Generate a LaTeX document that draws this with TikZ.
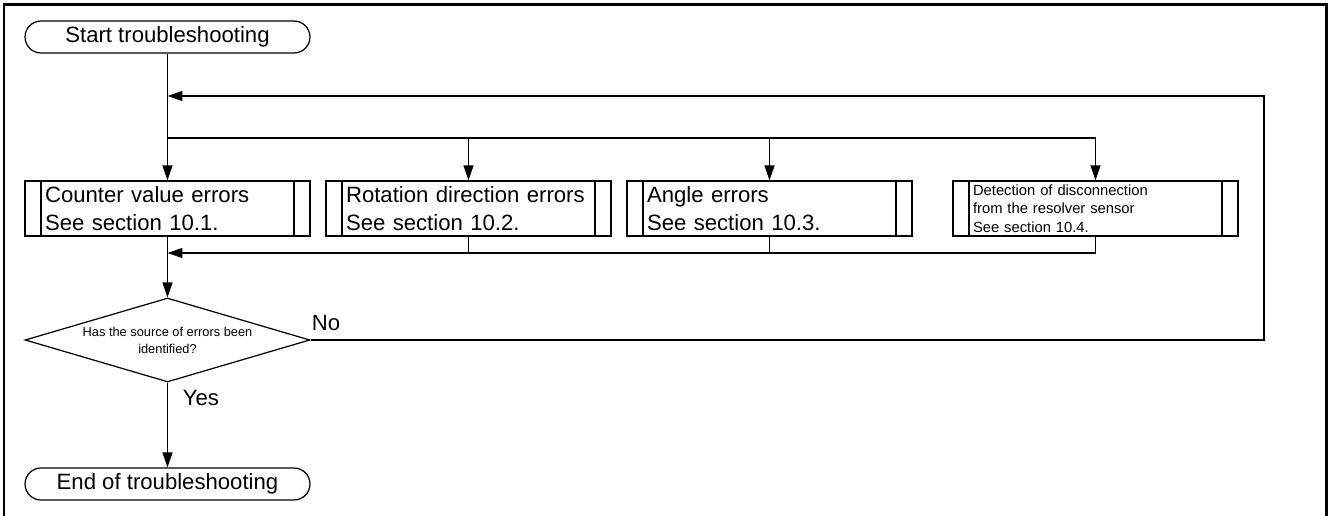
\documentclass[tikz,border=0pt]{standalone}
\usepackage{fontspec}
\setmainfont{Liberation Sans}
\usepackage{tikz}
\usetikzlibrary{shapes.geometric,positioning,arrows.meta}

\begin{document}
\begin{tikzpicture}[
    x=0.02cm, y=-0.02cm,
    term/.style={draw, line width=0.7pt, rounded corners=0.32cm, minimum width=5.7cm, minimum height=0.64cm, inner sep=0pt, font=\fontsize{12.6}{15}\selectfont},
    proc/.style={draw, line width=0.7pt, minimum width=5.7cm, minimum height=1.1cm, text width=4.9cm, inner xsep=0.4cm, inner ysep=0pt, align=left, font=\fontsize{12.6}{15.9}\selectfont,
        path picture={
            \draw[line width=0.7pt] ([xshift=0.32cm]path picture bounding box.north west) -- ([xshift=0.32cm]path picture bounding box.south west);
            \draw[line width=0.7pt] ([xshift=-0.32cm]path picture bounding box.north east) -- ([xshift=-0.32cm]path picture bounding box.south east);
        }},
    decide/.style={draw, diamond, line width=0.7pt, aspect=3.39, minimum width=5.7cm, minimum height=1.68cm, inner sep=0pt, align=center, font=\fontsize{7.3}{9.6}\selectfont},
    lbl/.style={font=\fontsize{12.6}{15}\selectfont, inner sep=0pt},
    arr/.style={-{Triangle[length=0.3cm, width=0.2cm]}, line width=0.7pt},
    line/.style={line width=0.7pt}
]
    \useasboundingbox (0,0) rectangle (1328,516);
    % outer frame, open at the bottom
    \draw[line width=1.7pt] (4,516) -- (4,5) -- (1326,5) -- (1326,516);

    % terminators
    \node[term] (start) at (167.5,37) {Start troubleshooting};
    \node[term] (stop) at (167.5,484) {End of troubleshooting};

    % the four checks
    \node[proc] (cnt) at (167.5,208.5) {Counter value errors\\See section 10.1.};
    \node[proc] (rot) at (468.5,208.5) {Rotation direction errors\\See section 10.2.};
    \node[proc] (ang) at (769.5,208.5) {Angle errors\\See section 10.3.};
    \node[proc, font=\fontsize{8.4}{10.5}\selectfont] (dis) at (1095.5,208.5) {Detection of disconnection\\from the resolver sensor\\See section 10.4.};

    % decision
    \node[decide] (found) at (167.5,340) {Has the source of errors been\\identified?};

    % junction points
    \coordinate (back) at (167.5,96);
    \coordinate (loop) at (1264,96);
    \coordinate (fork) at (167.5,138);
    \coordinate (join) at (167.5,253);

    % start into the checks
    \draw[arr] (start) -- (cnt);
    \draw[line] (fork) -- (fork -| dis.north);
    \draw[arr] (fork -| rot.north) -- (rot);
    \draw[arr] (fork -| ang.north) -- (ang);
    \draw[arr] (fork -| dis.north) -- (dis);

    % results back together
    \draw[arr] (dis.south) |- (join);
    \draw[line] (rot.south) -- (rot.south |- join);
    \draw[line] (ang.south) -- (ang.south |- join);
    \draw[arr] (cnt) -- (found);

    % No: go round again
    \draw[arr] (found.east) -| (loop) -- (back);
    \node[lbl, anchor=base west] (no) at ([xshift=0.02cm, yshift=0.18cm]found.east) {No};

    % Yes: finish
    \draw[arr] (found) -- (stop);
    \node[lbl, anchor=base west] (yes) at ([xshift=0.3cm, yshift=-0.46cm]found.south) {Yes};
\end{tikzpicture}
\end{document}
